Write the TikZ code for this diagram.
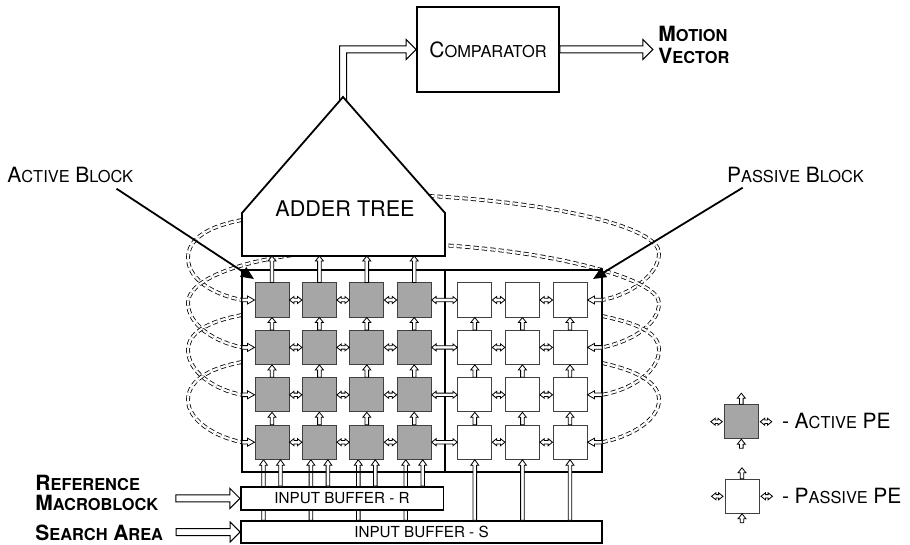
\documentclass[tikz,border=0pt]{standalone}
\usepackage{fontspec}
\setmainfont{TeX Gyre Heros}
\usetikzlibrary{calc,arrows.meta}
\pgfdeclarelayer{bg}
\pgfsetlayers{bg,main}

\newcommand\SCw[2]{{\fontsize{10.5}{12}\selectfont #1}{\fontsize{8.2}{10}\selectfont #2}}
\newcommand\SCb[2]{{\bfseries\fontsize{10.5}{12}\selectfont #1}{\bfseries\fontsize{8.2}{10}\selectfont #2}}

% hollow single-headed arrow: [style]{from}{to}{shaft half width}{head half width}{head length}
\newcommand\harrow[6][]{%
  \coordinate (hA) at (#2); \coordinate (hB) at (#3);
  \coordinate (hH) at ($(hB)!#6!(hA)$);
  \draw[hollow,#1] ($(hA)!#4!90:(hB)$) -- ($(hH)!#4!90:(hB)$) -- ($(hH)!#5!90:(hB)$) -- (hB)
     -- ($(hH)!#5!-90:(hB)$) -- ($(hH)!#4!-90:(hB)$) -- ($(hA)!#4!-90:(hB)$) -- cycle;}
% hollow double-headed arrow
\newcommand\hdarrow[5]{%
  \coordinate (hA) at (#1); \coordinate (hB) at (#2);
  \coordinate (hH) at ($(hB)!#5!(hA)$);
  \coordinate (hG) at ($(hA)!#5!(hB)$);
  \draw[hollow] (hA) -- ($(hG)!#4!-90:(hA)$) -- ($(hG)!#3!-90:(hA)$) -- ($(hH)!#3!90:(hB)$)
     -- ($(hH)!#4!90:(hB)$) -- (hB) -- ($(hH)!#4!-90:(hB)$) -- ($(hH)!#3!-90:(hB)$)
     -- ($(hG)!#3!90:(hA)$) -- ($(hG)!#4!90:(hA)$) -- cycle;}

\tikzset{
  hollow/.style={draw=black, fill=white, line width=0.4pt, line join=miter},
  bighollow/.style={line width=0.5pt},
  ape/.style={draw=black!75, fill=black!35, line width=0.5pt, minimum size=17pt, inner sep=0pt},
  ppe/.style={draw=black!75, fill=white, line width=0.5pt, minimum size=17pt, inner sep=0pt},
  boxline/.style={draw=black, line width=0.9pt},
  bufbox/.style={draw=black, fill=white, line width=0.8pt, inner sep=0pt, font=\fontsize{7.6}{9}\selectfont},
  loopline/.style={double=white, double distance=1.1pt, line width=0.4pt, dash pattern=on 2.6pt off 1.6pt},
  pointer/.style={draw=black, line width=0.9pt, -{Triangle[length=6.5pt,width=5.5pt]}},
  lbl/.style={anchor=base west, inner sep=0pt},
}

\begin{document}
\begin{tikzpicture}[x=0.5pt,y=-0.5pt]
\useasboundingbox (0,0) rectangle (910,545);

% ---------- PE grid (positions) ----------
\foreach \r/\y in {1/300,2/347.4,3/394.8,4/442.2}{
  \foreach \c/\x in {1/272,2/319.4,3/366.8,4/414.2}{\node[ape] (a\r\c) at (\x,\y) {};}
  \foreach \c/\x in {1/474.8,2/522.4,3/570}{\node[ppe] (p\r\c) at (\x,\y) {};}
}
\coordinate (blkTL) at (242,270);
\coordinate (blkBR) at (602,472);
\coordinate (divT) at (445,270);
\coordinate (divB) at (445,472);
\coordinate (adb) at (343,256);
\coordinate (apex) at (343,97);

% ---------- dashed loops ----------
\draw[loopline] (242,220) .. controls (210,226) and (188,238) .. (188,258)
   .. controls (188,280) and (215,295) .. (a11.west -| blkTL);
\draw[loopline] (300,254) .. controls (230,263) and (188,282) .. (188,303)
   .. controls (188,325) and (215,342) .. (a21.west -| blkTL);
\draw[loopline] (242,315) .. controls (215,320) and (188,330) .. (188,350)
   .. controls (188,372) and (215,390) .. (a31.west -| blkTL);
\draw[loopline] (242,362) .. controls (215,367) and (188,378) .. (188,400)
   .. controls (188,420) and (215,437) .. (a41.west -| blkTL);

\draw[loopline] (429,196) .. controls (560,203) and (659,228) .. (659,253)
   .. controls (659,275) and (630,295) .. (p13.east -| blkBR);
\draw[loopline] (440,245) .. controls (560,252) and (659,280) .. (659,303)
   .. controls (659,325) and (630,342) .. (p23.east -| blkBR);
\draw[loopline] (602,316) .. controls (630,322) and (659,330) .. (659,350)
   .. controls (659,372) and (630,390) .. (p33.east -| blkBR);
\draw[loopline] (602,363) .. controls (630,369) and (659,380) .. (659,400)
   .. controls (659,420) and (630,437) .. (p43.east -| blkBR);

% ---------- comparator ----------
\node[boxline, minimum width=71pt, minimum height=42.5pt, inner sep=0pt] (cmp) at (488,49.5) {\SCw{C}{OMPARATOR}};
\coordinate (bend) at (apex |- cmp.west);
\draw[hollow,bighollow] ($(apex)+(-3.5,12)$) -- ($(bend)+(-3.5,-3.5)$) -- ($(cmp.west)+(-10,-3.5)$)
   -- ($(cmp.west)+(-10,-10)$) -- (cmp.west) -- ($(cmp.west)+(-10,10)$) -- ($(cmp.west)+(-10,3.5)$)
   -- ($(bend)+(3.5,3.5)$) -- ($(apex)+(3.5,12)$) -- cycle;
\harrow[bighollow]{cmp.east}{$(cmp.east)+(93,0)$}{1.75pt}{5pt}{5pt}
\node[lbl] (mot1) at (658,41.5) {\SCb{M}{OTION}};
\node[lbl] (mot2) at (658,64) {\SCb{V}{ECTOR}};

% ---------- adder tree ----------
\draw[boxline, fill=white, line join=miter] (242,256) -- (242,213) -- (apex) -- (445,213) -- (445,256) -- cycle;
\node[font=\fontsize{10.8}{12}\selectfont, anchor=base, inner sep=0pt] (adder) at (345,216.7) {ADDER TREE};

% ---------- block boxes ----------
\draw[boxline] (blkTL) rectangle (blkBR);
\draw[boxline] (divT) -- (divB);

% redraw PEs on top of box
\foreach \r/\y in {1/300,2/347.4,3/394.8,4/442.2}{
  \foreach \c/\x in {1/272,2/319.4,3/366.8,4/414.2}{\node[ape] at (\x,\y) {};}
  \foreach \c/\x in {1/474.8,2/522.4,3/570}{\node[ppe] at (\x,\y) {};}
}

% ---------- input buffers ----------
\node[bufbox, minimum width=101.3pt, minimum height=11.6pt] (bufR) at (342,498.4) {INPUT BUFFER - R};
\node[bufbox, minimum width=180.5pt, minimum height=11pt] (bufS) at (421.5,532) {INPUT BUFFER - S};

% ---------- PE arrows ----------
\foreach \r in {1,2,3,4}{
  \foreach \u/\v in {a\r1/a\r2,a\r2/a\r3,a\r3/a\r4,a\r4/p\r1,p\r1/p\r2,p\r2/p\r3}{
    \hdarrow{\u.east}{\v.west}{0.85pt}{1.75pt}{2.2pt}
  }
  \harrow{a\r1.west -| blkTL}{a\r1.west}{0.9pt}{2pt}{3.5pt}
  \harrow{p\r3.east -| blkBR}{p\r3.east}{0.9pt}{2pt}{3.5pt}
}
\foreach \r/\s in {2/1,3/2,4/3}{
  \foreach \c in {1,2,3,4}{\harrow{a\r\c.north}{a\s\c.south}{0.9pt}{2pt}{2.5pt}}
  \foreach \c in {1,2,3}{\harrow{p\r\c.north}{p\s\c.south}{0.9pt}{2pt}{2.5pt}}
}
\foreach \c in {1,2,3,4}{\harrow{a1\c.north}{a1\c.north |- adb}{0.9pt}{2pt}{2.5pt}}

\begin{pgfonlayer}{bg}
\foreach \c in {1,2,3,4}{
  \coordinate (bl) at ($(a4\c.south)+(-8.5,0)$);
  \harrow{bl |- bufS.north}{bl}{0.9pt}{2pt}{2.8pt}
}
\end{pgfonlayer}
\foreach \c in {1,2,3,4}{
  \coordinate (br) at ($(a4\c.south)+(8.5,0)$);
  \harrow{br |- bufR.north}{br}{0.9pt}{2pt}{2.8pt}
}
\foreach \c in {1,2,3}{\harrow{p4\c.south |- bufS.north}{p4\c.south}{0.9pt}{2pt}{2.8pt}}

% ---------- input labels ----------
\harrow[bighollow]{$(bufR.west)+(-64,0)$}{bufR.west}{1.75pt}{5pt}{5pt}
\harrow[bighollow]{$(bufS.west)+(-64,0)$}{bufS.west}{1.75pt}{5pt}{5pt}
\node[lbl] (refl1) at (35,490) {\SCb{R}{EFERENCE}};
\node[lbl] (refl2) at (35,510) {\SCb{M}{ACROBLOCK}};
\node[lbl] (srch) at (35,540) {\SCb{S}{EARCH} \SCb{A}{REA}};

% ---------- block labels and pointers ----------
\node[lbl] (lblA) at (7,183) {\SCw{A}{CTIVE} \SCw{B}{LOCK}};
\node[lbl] (lblP) at (726.7,183) {\SCw{P}{ASSIVE} \SCw{B}{LOCK}};
\coordinate (atip) at (254,279);
\coordinate (ptip) at (593,279);
\draw[pointer] ($(lblA.south east)+(-17,5)$) -- (atip);
\draw[pointer] ($(lblP.south west)+(16,4)$) -- (ptip);

% ---------- legend ----------
\node[ape] (la) at (741.3,421.7) {};
\harrow{la.north}{$(la.north)+(0,-11)$}{0.9pt}{2pt}{2.5pt}
\harrow{$(la.south)+(0,9)$}{la.south}{0.9pt}{2pt}{2.5pt}
\hdarrow{$(la.west)+(-13,0)$}{$(la.west)+(-1.5,0)$}{0.85pt}{1.75pt}{2.2pt}
\hdarrow{$(la.east)+(1.5,0)$}{$(la.east)+(13,0)$}{0.85pt}{1.75pt}{2.2pt}
\node[lbl] (lta) at (781.7,428.3) {{\fontsize{10.5}{12}\selectfont -} \SCw{A}{CTIVE} {\fontsize{10.5}{12}\selectfont PE}};

\node[ppe] (lp) at (742,496.3) {};
\harrow{lp.north}{$(lp.north)+(0,-11)$}{0.9pt}{2pt}{2.5pt}
\harrow{$(lp.south)+(0,9)$}{lp.south}{0.9pt}{2pt}{2.5pt}
\hdarrow{$(lp.west)+(-13,0)$}{$(lp.west)+(-1.5,0)$}{0.85pt}{1.75pt}{2.2pt}
\hdarrow{$(lp.east)+(1.5,0)$}{$(lp.east)+(13,0)$}{0.85pt}{1.75pt}{2.2pt}
\node[lbl] (ltp) at (781.7,503.3) {{\fontsize{10.5}{12}\selectfont -} \SCw{P}{ASSIVE} {\fontsize{10.5}{12}\selectfont PE}};
\end{tikzpicture}
\end{document}
